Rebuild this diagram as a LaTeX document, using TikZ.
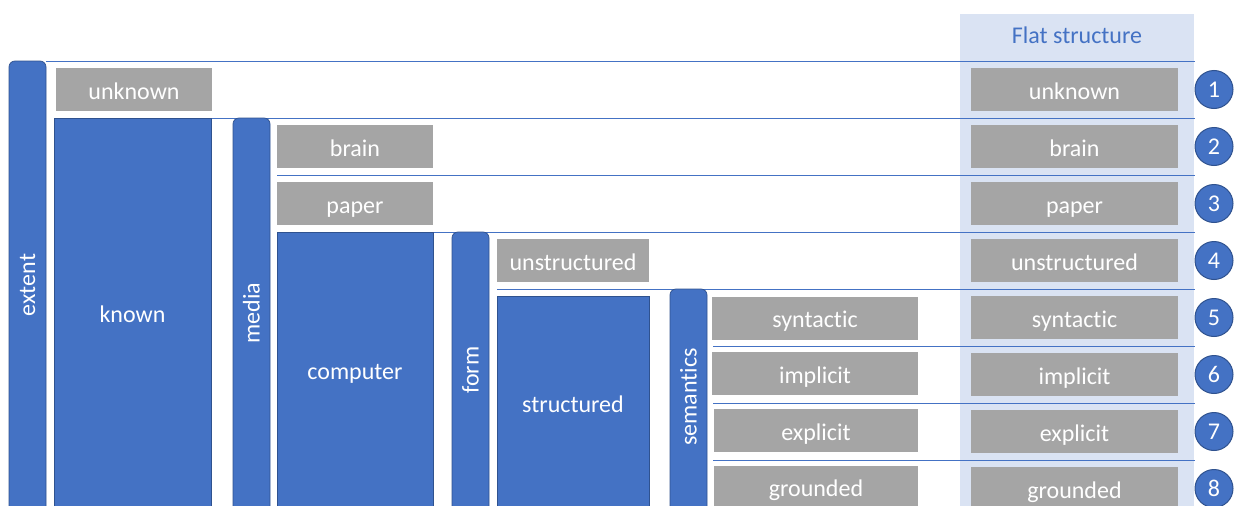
\documentclass[tikz,border=0pt]{standalone}
\usepackage{fontspec}
\setmainfont{Carlito}[Ligatures=NoCommon]
\definecolor{accent}{HTML}{4472C4}
\definecolor{accentdark}{HTML}{2F528F}
\definecolor{boxgray}{HTML}{A5A5A5}
\definecolor{panel}{HTML}{DAE3F3}
\begin{document}
\begin{tikzpicture}[x=1pt,y=-1pt,
  every node/.style={font=\fontsize{24}{28}\selectfont, inner sep=0pt, outer sep=0pt},
  leaf/.style={fill=boxgray, text=white, minimum height=43pt, text height=24pt, text depth=5pt},
  flat/.style={leaf, minimum width=207pt},
  block/.style={fill=accent, draw=accentdark, line width=0.75pt, anchor=north west},
  axis/.style={block, rounded corners=6pt, minimum width=37pt},
  caption/.style={text=white, text height=24pt, text depth=5pt},
  axislabel/.style={text=white, rotate=90},
  sep/.style={draw=accent, line width=0.8pt},
  num/.style={circle, fill=accent, draw=accentdark, line width=1pt, minimum size=38pt, text=white}]
\useasboundingbox (0,0) rectangle (1237,506);
\clip (0,0) rectangle (1237,506);

% flat structure panel
\fill[panel] (960,14) rectangle (1194,520);
\node[text=accent] (title) at (1077,35) {Flat structure};

% row separators
\coordinate (r0) at (46,61);   \coordinate (e0) at (1195,61);
\coordinate (r1) at (211,118); \coordinate (e1) at (1195,118);
\coordinate (r2) at (277,175); \coordinate (e2) at (1195,175);
\coordinate (r3) at (433,232); \coordinate (e3) at (1195,232);
\coordinate (r4) at (497,289); \coordinate (e4) at (1195,289);
\coordinate (r5) at (713,346); \coordinate (e5) at (1195,346);
\coordinate (r6) at (713,403); \coordinate (e6) at (1195,403);
\coordinate (r7) at (713,460); \coordinate (e7) at (1195,460);
\foreach \i in {0,...,7} \draw[sep] (r\i) -- (e\i);

% dimension bars
\node[axis, minimum height=460pt] (extent) at (9,61) {};
\node[axislabel] (extentlabel) at (27.5,285) {extent};
\node[axis, minimum height=400pt] (media) at (233,118) {};
\node[axislabel] (medialabel) at (251.5,313) {media};
\node[axis, minimum height=290pt] (form) at (452,232) {};
\node[axislabel] (formlabel) at (470.5,370) {form};
\node[axis, minimum height=230pt] (semantics) at (670,289) {};
\node[axislabel] (semanticslabel) at (688.5,397) {semantics};

% refined categories
\node[block, minimum width=157pt, minimum height=400pt] (known) at (54,118) {};
\node[caption] (knownlabel) at (132.5,313) {known};
\node[block, minimum width=156pt, minimum height=290pt] (computer) at (277,232) {};
\node[caption] (computerlabel) at (355,370) {computer};
\node[block, minimum width=152pt, minimum height=225pt] (structured) at (497,296) {};
\node[caption] (structuredlabel) at (573,403) {structured};

% leaf categories
\node[leaf, minimum width=156pt] (unknown) at (134,89.5) {unknown};
\node[leaf, minimum width=156pt] (brain) at (355,146.5) {brain};
\node[leaf, minimum width=156pt] (paper) at (355,203.5) {paper};
\node[leaf, minimum width=152pt] (unstructured) at (573,260.5) {unstructured};
\node[leaf, minimum width=206pt] (syntactic) at (815,318) {syntactic};
\node[leaf, minimum width=206pt] (implicit) at (815,373.5) {implicit};
\node[leaf, minimum width=204pt] (explicit) at (816,430.5) {explicit};
\node[leaf, minimum width=204pt] (grounded) at (816,487) {grounded};

% flat list with numbering
\foreach \lbl [count=\k from 0] in {unknown,brain,paper,unstructured,syntactic,implicit,explicit,grounded} {
  \node[flat] (flat\k) at (1074.5,89.5+57*\k) {\lbl};
  \node[num] (num\k) at (1214,89.5+57*\k) {\the\numexpr\k+1\relax};
}
\end{tikzpicture}
\end{document}
